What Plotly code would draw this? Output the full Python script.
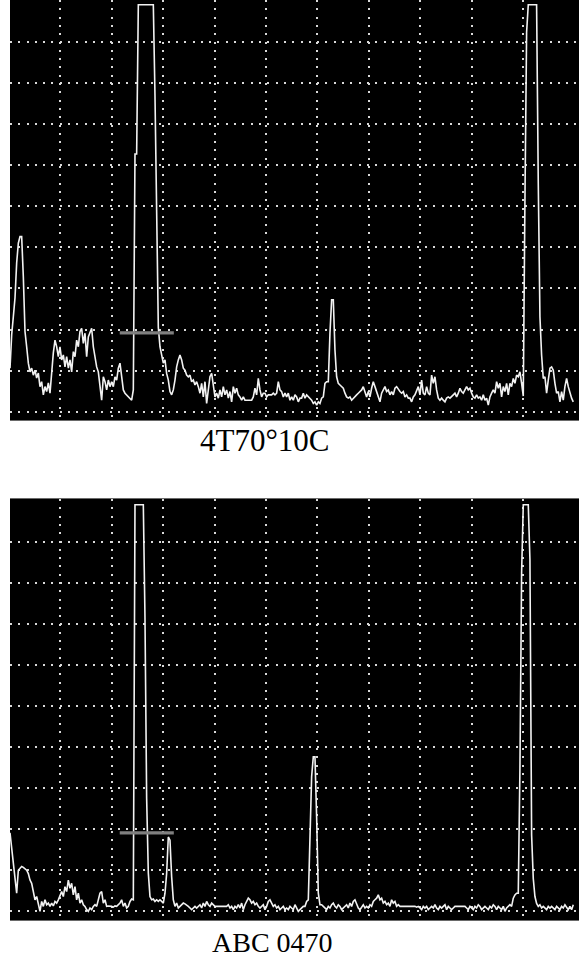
import numpy as np
import plotly.graph_objects as go

# A-scan screens: 11 horizontal divisions (0-110 % of screen width),
# amplitude in % of full screen height (FSH).
SAMPLE_START = 0.29    # screen position of the first sample, % width
SAMPLE_STEP = 0.3236   # screen distance between samples, % width

# Echo amplitude per sample, 4T70°10C
amp_4t70 = [
    10.6, 18.7, 23.1, 27.7, 36.2, 41.0, 42.6, 42.6, 32.8, 19.5,
    15.8, 11.8, 9.7, 10.6, 8.9, 10.1, 8.2, 9.4, 6.1, 7.3,
    4.1, 6.1, 4.9, 7.0, 4.5, 9.7, 14.3, 17.4, 15.8, 13.4,
    15.8, 12.6, 13.8, 10.9, 13.4, 10.6, 12.6, 9.7, 14.6, 13.4,
    17.4, 15.8, 19.5, 20.3, 16.6, 19.1, 13.4, 18.2, 19.5, 20.3,
    15.8, 13.4, 10.9, 9.7, 6.1, 2.8, 8.5, 7.3, 5.3, 7.7,
    6.1, 7.3, 6.1, 8.5, 7.7, 10.6, 11.8, 8.5, 5.3, 4.5,
    4.1, 3.6, 3.3, 2.8, 5.3, 62.7, 62.7, 99, 99, 99,
    99, 99, 99, 99, 99, 99, 99, 77.0, 42.3, 20.5,
    15.8, 13.8, 11.8, 12.6, 9.3, 7.7, 4.9, 4.1, 5.3, 7.7,
    10.9, 12.6, 13.8, 12.6, 10.6, 10.1, 8.9, 8.5, 8.9, 7.3,
    7.7, 6.5, 7.3, 6.1,
    4.5, 6.9, 3.6, 7.3, 2.0, 5.3, 8.5, 9.3, 6.9, 3.6,
    4.5, 3.3, 5.3, 3.6, 6.1, 4.1, 5.3, 3.3, 4.9, 2.4,
    6.1, 4.5, 5.7, 4.1, 3.6, 2.8, 3.6, 2.8, 2.8, 2.8,
    2.8, 2.8, 3.6, 5.7, 4.1, 8.1, 5.3, 3.6, 4.5, 4.5,
    3.6, 4.1, 4.1, 4.1, 4.5, 4.1, 4.5, 7.3, 5.3, 4.9,
    3.6, 4.5, 3.6, 4.5, 2.8, 3.6, 2.8, 4.1, 3.6, 2.4,
    3.3, 3.3, 4.5, 3.3, 4.1, 3.6, 3.3, 2.8, 2.0, 2.4,
    1.6, 2.4, 2.0, 3.3, 3.6, 6.9, 7.3, 7.3, 19.1, 27.2,
    27.2, 15.0, 8.5, 6.9, 6.5, 6.1, 5.7, 4.5, 3.6, 3.3,
    3.6, 2.8, 3.3, 3.6, 4.1, 4.5, 4.9, 5.3, 6.1, 4.9,
    3.6, 4.9, 3.6, 5.7, 7.3, 6.1, 4.9, 3.3,
    2.4, 4.5, 5.3, 6.1, 4.9, 5.3, 4.1, 4.9, 4.1, 5.7,
    6.1, 5.3, 4.9, 4.5, 4.9, 3.6, 4.1, 3.3, 3.3, 2.4,
    3.6, 4.1, 4.9, 6.1, 4.1, 7.7, 4.5, 4.1, 6.1, 4.5,
    4.1, 8.9, 6.9, 8.5, 5.3, 3.3, 2.8, 3.3, 2.8, 2.4,
    3.3, 3.6, 3.3, 3.6, 4.1, 4.5, 3.6, 4.5, 5.7, 4.9,
    4.5, 5.3, 6.1, 5.3, 5.7, 4.5, 3.6, 3.3, 4.1, 3.3,
    3.6, 2.8, 4.1, 2.8, 3.3, 1.6, 3.6, 4.5, 5.3, 4.5,
    7.3, 5.7, 6.9, 3.6, 6.1, 4.9, 6.9, 4.1, 6.9, 6.1,
    8.1, 6.9, 8.9, 8.5, 9.7, 6.9, 3.8, 51.5, 92.3, 99,
    99, 99, 99, 99, 99, 55.6, 23.1, 13.8, 8.1, 8.5,
    4.5, 7.7, 10.6, 10.9, 10.1, 6.9, 4.5, 4.9, 2.4, 4.9,
    2.8, 6.1, 8.1, 6.1, 4.5, 3.3, 2.4,
]

# Echo amplitude per sample, ABC 0470
amp_abc0470 = [
    19.1, 15.0, 11.3, 7.6, 4.4, 10.0, 10.4, 10.9, 10.7, 10.4,
    10.0, 9.2, 7.6, 6.8, 4.4, 2.8, 3.6, 2.0, 0.0, 2.4,
    1.2, 2.8, 1.6, 2.0, 1.2, 2.0, 1.3, 2.4, 2.0, 2.8,
    3.6, 4.8, 3.6, 6.0, 4.8, 7.6, 5.6, 6.8, 4.0, 6.0,
    2.8, 4.4, 2.0, 2.8, 1.6, 1.2, 0.4, 0.0, 0.8, 0.4,
    1.2, 1.6, 1.2, 2.8, 4.4, 4.8, 2.0, 2.8, 1.2, 1.3,
    1.3, 1.2, 1.0, 1.3, 1.2, 1.6, 2.0, 2.8, 1.2, 2.0,
    0.8, 1.2, 2.4, 3.0, 2.8, 99, 99, 99, 99, 99,
    99, 71.5, 27.5, 9.3, 3.6, 2.8, 3.0, 2.4, 2.8, 2.4,
    2.8, 2.4, 2.0, 4.4, 9.2, 18.1, 17.3, 8.4, 2.8, 1.2,
    2.0, 0.8, 1.2, 1.6, 2.0, 1.8, 1.6, 1.2, 0.8, 0.4,
    0.8, 1.2, 0.8, 1.2,
    1.6, 0.8, 2.0, 1.2, 2.4, 1.6, 1.2, 2.0, 1.6, 1.2,
    1.2, 1.2, 1.2, 1.2, 1.2, 1.2, 1.2, 1.6, 0.8, 1.2,
    0.4, 1.2, 0.8, 1.6, 0.8, 2.0, 0.4, 1.6, 2.4, 3.2,
    2.8, 2.0, 2.4, 1.6, 2.0, 1.2, 0.8, 1.2, 1.6, 0.4,
    1.2, 2.4, 2.8, 2.0, 1.2, 1.6, 0.8, 1.2, 0.4, 0.8,
    1.2, 0.4, 0.8, 0.4, 1.2, 0.8, 0.4, 1.6, 0.8, 0.0,
    0.4, 0.8, 1.2, 1.2, 2.4, 2.8, 16.6, 32.8, 37.6, 37.6,
    22.9, 4.4, 1.6, 1.6, 1.2, 0.8, 0.4, 1.2, 0.8, 1.6,
    2.0, 1.2, 0.8, 1.6, 1.2, 0.4, 0.8, 1.2, 1.6, 0.8,
    2.0, 1.2, 2.4, 2.8, 1.6, 0.8, 0.4, 1.2, 1.6, 0.8,
    1.2, 0.8, 1.6, 1.2, 2.4, 2.8, 3.2, 4.0,
    2.8, 3.2, 2.0, 2.4, 1.6, 2.0, 1.2, 2.8, 2.0, 2.4,
    1.2, 1.6, 1.2, 1.2, 1.2, 1.2, 1.2, 1.2, 1.2, 1.2,
    1.2, 1.2, 1.0, 1.2, 0.8, 0.4, 1.2, 0.8, 1.2, 0.4,
    0.8, 1.2, 0.8, 1.6, 0.8, 0.4, 1.2, 0.8, 1.2, 1.6,
    0.4, 1.2, 0.8, 0.4, 0.8, 1.2, 1.2, 1.2, 1.2, 1.2,
    1.2, 1.2, 0.8, 0.4, 1.2, 0.8, 0.4, 1.2, 0.8, 1.6,
    1.2, 0.4, 0.8, 1.2, 0.8, 0.4, 1.2, 0.8, 1.6, 1.2,
    0.4, 1.2, 0.8, 0.4, 1.2, 0.0, 0.8, 1.2, 1.6, 1.2,
    3.2, 4.0, 4.4, 4.4, 34.8, 82.4, 99, 99, 99, 99,
    85.7, 18.6, 8.0, 3.6, 1.9, 1.2, 1.6, 0.8, 1.2, 0.8,
    0.4, 1.2, 0.8, 1.2, 0.8, 0.4, 1.2, 0.8, 0.4, 1.2,
    0.8, 1.6, 0.8, 0.4, 1.2, 0.4, 1.6,
]

# Evaluation gate (screen % width / % FSH) for each screen
GATE_START = [21.6, 21.6]
GATE_END = [32.1, 32.1]
GATE_LEVEL = [19.2, 19.1]

CAPTIONS = ["4T70°10C", "ABC 0470"]

X_GRID = [10, 20, 30, 40, 50, 60, 70, 80, 90, 100]
Y_GRID = [0, 10, 20, 30, 40, 50, 60, 70, 80, 90]

TRACE_COLOR = "#f2f2f2"
GATE_COLOR = "#7f7f7f"
GRID_COLOR = "#d9d9d9"
FRAME_COLOR = "#6a6a6a"

W, H = 579, 958


def sample_positions(amps):
    return SAMPLE_START + SAMPLE_STEP * np.arange(len(amps))


fig = go.Figure()

screens = [amp_4t70, amp_abc0470]
for i, amps in enumerate(screens):
    xa = "x" if i == 0 else "x2"
    ya = "y" if i == 0 else "y2"
    fig.add_trace(go.Scatter(
        x=sample_positions(amps), y=amps, mode="lines",
        line=dict(color=TRACE_COLOR, width=1.6),
        xaxis=xa, yaxis=ya, hoverinfo="skip", showlegend=False,
    ))
    fig.add_trace(go.Scatter(
        x=[GATE_START[i], GATE_END[i]], y=[GATE_LEVEL[i], GATE_LEVEL[i]],
        mode="lines", line=dict(color=GATE_COLOR, width=3.2),
        xaxis=xa, yaxis=ya, hoverinfo="skip", showlegend=False,
    ))

x_common = dict(
    range=[0.29, 110.78], tickvals=X_GRID, showticklabels=False, ticks="",
    showgrid=True, gridcolor=GRID_COLOR, gridwidth=2, griddash="2px,6.3px",
    zeroline=False, showline=True, linecolor=FRAME_COLOR, linewidth=1,
    mirror=True, fixedrange=True,
)
y_common = dict(
    tickvals=Y_GRID, showticklabels=False, ticks="",
    showgrid=True, gridcolor=GRID_COLOR, gridwidth=2, griddash="2px,6.3px",
    zeroline=False, showline=False, fixedrange=True,
)

fig.update_layout(
    width=W, height=H,
    margin=dict(l=0, r=0, t=0, b=0),
    paper_bgcolor="white", plot_bgcolor="black",
    showlegend=False,
    xaxis=dict(domain=[10 / W, 1.0], anchor="y", **x_common),
    yaxis=dict(domain=[1 - 420 / H, 1.0], anchor="x",
               range=[-2.02, 100.17], **y_common),
    xaxis2=dict(domain=[10 / W, 1.0], anchor="y2", **x_common),
    yaxis2=dict(domain=[1 - 920 / H, 1 - 499 / H], anchor="x2",
                range=[-2.12, 100.41], **y_common),
    annotations=[
        dict(text=CAPTIONS[0], xref="paper", yref="paper",
             x=264.7 / W, y=1 - 440.5 / H, xanchor="center", yanchor="middle",
             showarrow=False,
             font=dict(family="Liberation Serif", size=31, color="black")),
        dict(text=CAPTIONS[1], xref="paper", yref="paper",
             x=272 / W, y=1 - 942 / H, xanchor="center", yanchor="middle",
             showarrow=False,
             font=dict(family="Liberation Serif", size=28, color="black")),
    ],
)

fig.write_html("out.html")
